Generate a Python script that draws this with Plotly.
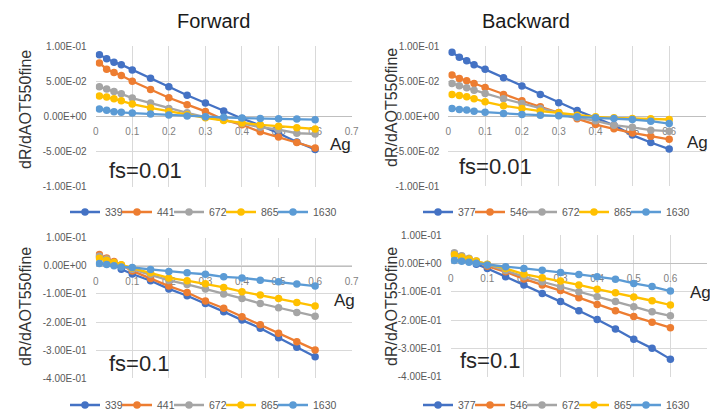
import plotly.graph_objects as go

ag = [0.01, 0.03, 0.05, 0.07, 0.1, 0.15, 0.2, 0.25, 0.3, 0.35, 0.4, 0.45, 0.5, 0.55, 0.6]

fwd_bands = ["339", "441", "672", "865", "1630"]
bwd_bands = ["377", "546", "672", "865", "1630"]

fwd_fs001 = [
    [0.0877, 0.082, 0.077, 0.0735, 0.066, 0.054, 0.042, 0.030, 0.019, 0.0076, -0.003, -0.013, -0.024, -0.0365, -0.047],
    [0.076, 0.067, 0.0625, 0.058, 0.050, 0.038, 0.0265, 0.0166, 0.007, -0.0047, -0.012, -0.022, -0.0295, -0.037, -0.045],
    [0.042, 0.039, 0.0355, 0.032, 0.026, 0.019, 0.011, 0.005, -0.001, -0.005, -0.010, -0.0155, -0.019, -0.024, -0.025],
    [0.029, 0.0275, 0.025, 0.022, 0.0175, 0.012, 0.007, 0.0024, -0.002, -0.006, -0.0095, -0.012, -0.014, -0.0162, -0.018],
    [0.0104, 0.0085, 0.0066, 0.0057, 0.0047, 0.0033, 0.0019, 0.0005, -0.0005, -0.0014, -0.0024, -0.003, -0.0033, -0.0038, -0.0047],
]
bwd_fs001 = [
    [0.091, 0.0838, 0.079, 0.0733, 0.0667, 0.0548, 0.0429, 0.031, 0.019, 0.0081, -0.0024, -0.0129, -0.027, -0.0376, -0.047],
    [0.0586, 0.0538, 0.0505, 0.0467, 0.041, 0.031, 0.022, 0.0133, 0.0052, -0.0038, -0.012, -0.018, -0.024, -0.0286, -0.033],
    [0.0467, 0.0433, 0.0405, 0.037, 0.0324, 0.0248, 0.018, 0.011, 0.0038, -0.002, -0.0067, -0.0129, -0.016, -0.02, -0.0214],
    [0.031, 0.0295, 0.0276, 0.0248, 0.0205, 0.0148, 0.011, 0.0071, 0.0048, 0.0014, -0.001, -0.0024, -0.0033, -0.0038, -0.0048],
    [0.011, 0.0095, 0.0086, 0.0071, 0.0057, 0.0038, 0.0024, 0.0014, 0.0005, -0.001, -0.0024, -0.0033, -0.0048, -0.0071, -0.0105],
]
fwd_fs01 = [
    [0.032, 0.020, 0.005, -0.012, -0.029, -0.053, -0.082, -0.1065, -0.134, -0.163, -0.193, -0.222, -0.256, -0.29, -0.323],
    [0.040, 0.028, 0.015, 0.003, -0.018, -0.045, -0.072, -0.095, -0.125, -0.151, -0.181, -0.21, -0.24, -0.27, -0.299],
    [0.034, 0.024, 0.012, 0.0, -0.012, -0.03, -0.052, -0.066, -0.082, -0.1, -0.116, -0.134, -0.149, -0.166, -0.179],
    [0.027, 0.020, 0.012, 0.004, -0.008, -0.025, -0.043, -0.053, -0.064, -0.077, -0.092, -0.104, -0.116, -0.130, -0.143],
    [0.008, 0.005, 0.0, -0.004, -0.006, -0.013, -0.020, -0.025, -0.030, -0.039, -0.043, -0.051, -0.057, -0.065, -0.072],
]
bwd_fs01 = [
    [0.03, 0.02, 0.01, -0.003, -0.018, -0.047, -0.076, -0.106, -0.135, -0.167, -0.198, -0.232, -0.268, -0.3, -0.338],
    [0.035, 0.025, 0.015, 0.005, -0.010, -0.03, -0.055, -0.076, -0.096, -0.121, -0.145, -0.167, -0.188, -0.208, -0.227],
    [0.037, 0.027, 0.018, 0.008, -0.004, -0.025, -0.047, -0.065, -0.082, -0.1, -0.118, -0.135, -0.153, -0.171, -0.185],
    [0.03, 0.022, 0.015, 0.008, -0.003, -0.018, -0.038, -0.051, -0.062, -0.076, -0.091, -0.104, -0.119, -0.132, -0.147],
    [0.01, 0.007, 0.004, 0.0, -0.006, -0.012, -0.018, -0.024, -0.032, -0.039, -0.047, -0.056, -0.071, -0.082, -0.098],
]

x_ticks = [0, 0.1, 0.2, 0.3, 0.4, 0.5, 0.6, 0.7]
x_ticktext = ["0", "0.1", "0.2", "0.3", "0.4", "0.5", "0.6", "0.7"]
y_ticks_top = [0.1, 0.05, 0.0, -0.05, -0.1]
y_text_top = ["1.00E-01", "5.00E-02", "0.00E+00", "-5.00E-02", "-1.00E-01"]
y_ticks_bot = [0.1, 0.0, -0.1, -0.2, -0.3, -0.4]
y_text_bot = ["1.00E-01", "0.00E+00", "-1.00E-01", "-2.00E-01", "-3.00E-01", "-4.00E-01"]

colors = ["#4472C4", "#ED7D31", "#A5A5A5", "#FFC000", "#5B9BD5"]
FONT = "Liberation Sans, Arial, sans-serif"
W, H = 710, 412

def px_x(v):
    return v / W

def px_y(v):
    return 1 - v / H

panels = [
    dict(data=fwd_fs001, bands=fwd_bands, xd=(95.7, 351.7), yd=(46, 186.7), yr=(-0.1, 0.1),
         yt=y_ticks_top, ytt=y_text_top, fs="fs=0.01"),
    dict(data=bwd_fs001, bands=bwd_bands, xd=(448.3, 706), yd=(46, 186.3), yr=(-0.1, 0.1),
         yt=y_ticks_top, ytt=y_text_top, fs="fs=0.01"),
    dict(data=fwd_fs01, bands=fwd_bands, xd=(95.7, 351.7), yd=(237.7, 378.3), yr=(-0.4, 0.1),
         yt=y_ticks_bot, ytt=y_text_bot, fs="fs=0.1"),
    dict(data=bwd_fs01, bands=bwd_bands, xd=(450.7, 707), yd=(235, 376.7), yr=(-0.4, 0.1),
         yt=y_ticks_bot, ytt=y_text_bot, fs="fs=0.1"),
]

legend_pos = [(65, 212), (418, 212), (65, 405), (418, 405)]
ag_pos = [(340, 145), (697, 143), (344, 300), (700, 292)]
fs_pos = [(107, 170), (457, 167), (107, 363), (458, 360)]
ytitle_pos = [(25, 110), (391, 108), (25, 307), (391, 307)]

fig = go.Figure()
layout = dict(
    width=W, height=H, margin=dict(l=0, r=0, t=0, b=0, autoexpand=False),
    paper_bgcolor="white", plot_bgcolor="white",
    font=dict(family=FONT, color="#595959"),
    showlegend=True,
)
annotations = []

for i, p in enumerate(panels):
    n = "" if i == 0 else str(i + 1)
    xa, ya = "x" + n, "y" + n
    lg = "legend" + n
    for j, band in enumerate(p["bands"]):
        fig.add_trace(go.Scatter(
            x=ag, y=p["data"][j], name=band, mode="lines+markers",
            line=dict(color=colors[j], width=2.3),
            marker=dict(color=colors[j], size=7.5),
            xaxis=xa, yaxis=ya, legend=lg,
        ))
    # invisible spacer entry so the last legend label is not clipped
    fig.add_trace(go.Scatter(
        x=[None], y=[None], name="", mode="markers", showlegend=True,
        marker=dict(color="rgba(0,0,0,0)", size=1),
        xaxis=xa, yaxis=ya, legend=lg, hoverinfo="skip",
    ))
    xdom = [px_x(p["xd"][0]), px_x(p["xd"][1])]
    ydom = [px_y(p["yd"][1]), px_y(p["yd"][0])]
    y0, y1 = p["yr"]
    zero_pos = ydom[0] + (0 - y0) / (y1 - y0) * (ydom[1] - ydom[0])
    layout["xaxis" + n] = dict(
        domain=xdom, range=[0, 0.7], anchor="free", position=zero_pos,
        tickvals=x_ticks, ticktext=x_ticktext, showgrid=True, gridcolor="#D9D9D9",
        gridwidth=1, showline=True, linecolor="#BFBFBF", linewidth=1,
        zeroline=False, ticks="", ticklabelstandoff=6, layer="below traces",
        tickfont=dict(size=10, color="#7F7F7F"), fixedrange=True, automargin=False,
    )
    layout["yaxis" + n] = dict(
        domain=ydom, range=[y0, y1], anchor=xa,
        tickvals=p["yt"], ticktext=p["ytt"], showgrid=True, gridcolor="#D9D9D9",
        gridwidth=1, zeroline=False, showline=False, ticks="",
        ticklabelstandoff=8, tickfont=dict(size=10, color="#595959"), fixedrange=True,
        automargin=False,
    )
    lx, ly = legend_pos[i]
    layout[lg] = dict(
        orientation="h", x=px_x(lx), y=px_y(ly), xanchor="left", yanchor="middle",
        font=dict(size=10.5, color="#595959"), bgcolor="rgba(0,0,0,0)",
        entrywidth=7, entrywidthmode="pixels", itemwidth=30, tracegroupgap=0,
    )
    ax_, ay_ = ag_pos[i]
    annotations.append(dict(text="Ag", x=px_x(ax_), y=px_y(ay_), xref="paper", yref="paper",
                            showarrow=False, font=dict(size=17, color="#262626"),
                            xanchor="center", yanchor="middle"))
    fx, fy = fs_pos[i]
    annotations.append(dict(text=p["fs"], x=px_x(fx), y=px_y(fy), xref="paper", yref="paper",
                            showarrow=False, font=dict(size=22, color="#262626"),
                            xanchor="left", yanchor="middle"))
    tx, ty = ytitle_pos[i]
    annotations.append(dict(text="dR/dAOT550fine", x=px_x(tx), y=px_y(ty), xref="paper", yref="paper",
                            showarrow=False, textangle=-90, font=dict(size=16, color="#333333"),
                            xanchor="center", yanchor="middle"))

annotations.append(dict(text="Forward", x=px_x(213), y=px_y(21), xref="paper", yref="paper",
                        showarrow=False, font=dict(size=20, color="#1a1a1a"),
                        xanchor="center", yanchor="middle"))
annotations.append(dict(text="Backward", x=px_x(526), y=px_y(21), xref="paper", yref="paper",
                        showarrow=False, font=dict(size=20, color="#1a1a1a"),
                        xanchor="center", yanchor="middle"))
layout["annotations"] = annotations
fig.update_layout(**layout)
fig.write_html("out.html", config={"displayModeBar": False},
               post_script="document.body.style.margin='0';document.body.style.overflow='hidden';")
